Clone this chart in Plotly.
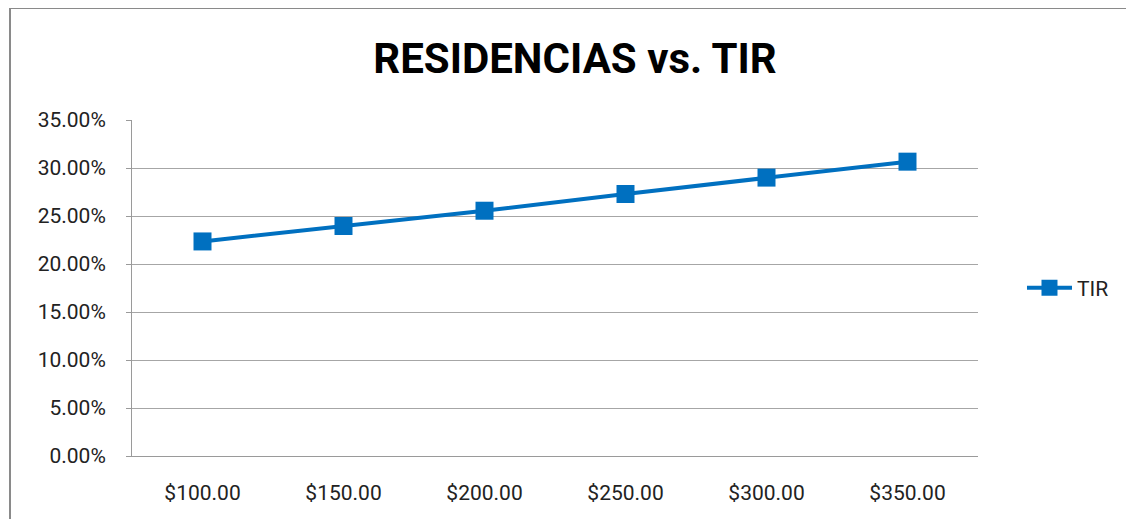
import plotly.graph_objects as go

categories = ["$100.00", "$150.00", "$200.00", "$250.00", "$300.00", "$350.00"]
tir_values = [0.2235, 0.2396, 0.2555, 0.2729, 0.2900, 0.3066]
y_ticks = [0, 0.05, 0.10, 0.15, 0.20, 0.25, 0.30, 0.35]
y_tick_labels = ["0.00%", "5.00%", "10.00%", "15.00%", "20.00%", "25.00%", "30.00%", "35.00%"]

FONT = "Roboto, sans-serif"
BLUE = "#0070C0"

fig = go.Figure()
fig.add_trace(go.Scatter(
    x=categories, y=tir_values, name="TIR", mode="lines+markers",
    line=dict(color=BLUE, width=4),
    marker=dict(symbol="square", size=18, color=BLUE),
))

fig.update_layout(
    width=1134, height=519,
    margin=dict(l=124, r=164, t=112, b=71),
    paper_bgcolor="white", plot_bgcolor="white",
    font=dict(family=FONT, size=21, color="#222222"),
    title=dict(text="<b>RESIDENCIAS vs. TIR</b>", x=0.5, xanchor="center",
               y=0.904, yanchor="middle",
               font=dict(family=FONT, size=42, color="black")),
    showlegend=True,
    legend=dict(x=1.052, y=0.5, xanchor="left", yanchor="middle",
                font=dict(family=FONT, size=21, color="#222222"),
                bgcolor="rgba(0,0,0,0)", itemwidth=45),
    xaxis=dict(type="category", range=[-0.5, 5.5], showgrid=False,
               showline=True, linecolor="#9a9a9a", linewidth=1,
               ticks="", ticklabelstandoff=18,
               tickfont=dict(family=FONT, size=21, color="#222222")),
    yaxis=dict(range=[0, 0.35], tickvals=y_ticks, ticktext=y_tick_labels,
               showgrid=True, gridcolor="#a6a6a6", gridwidth=1,
               showline=True, linecolor="#9a9a9a", linewidth=1,
               ticks="outside", ticklen=5, tickcolor="#9a9a9a",
               ticklabelstandoff=16, zeroline=False,
               tickfont=dict(family=FONT, size=21, color="#222222")),
    shapes=[dict(type="rect", xref="paper", yref="paper",
                 x0=-0.1442, x1=1.25, y0=-0.4, y1=1.333,
                 line=dict(color="#8a8a8a", width=2), layer="below")],
)

fig.write_html("out.html")
